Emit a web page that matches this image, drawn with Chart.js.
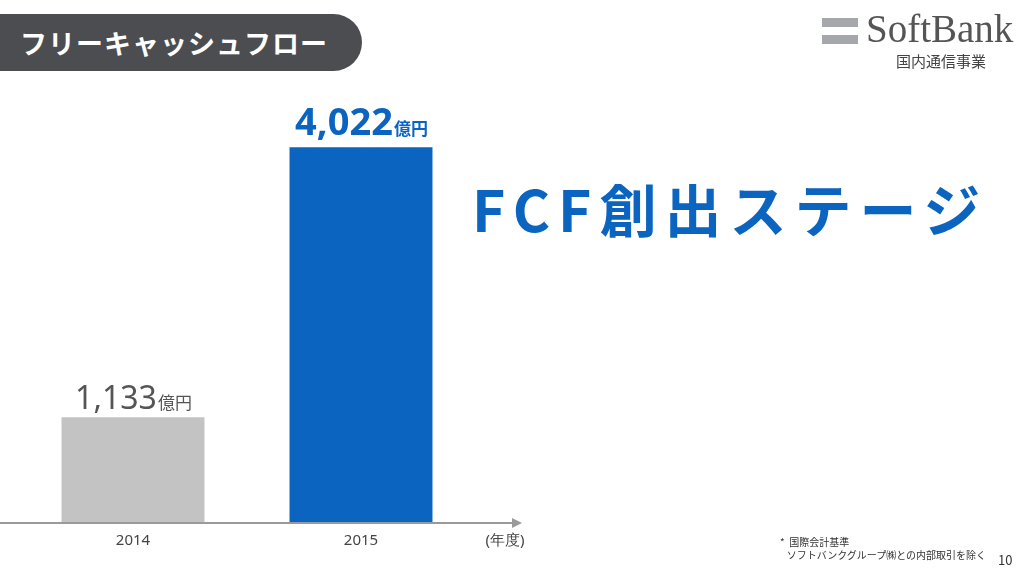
<!DOCTYPE html>
<html><head><meta charset="utf-8">
<script src="https://cdn.jsdelivr.net/npm/chart.js@4"></script>
<style>
body{margin:0;width:1024px;height:576px;overflow:hidden;background:#fff;font-family:"Noto Sans CJK JP","Noto Sans",sans-serif;position:relative}
#c{position:absolute;left:0;top:0}
.banner{position:absolute;left:0;top:14px;width:362px;height:57px;background:#4b4d50;border-radius:0 29px 29px 0;color:#fff;font-size:27px;font-weight:bold;line-height:57px;padding-left:20px;box-sizing:border-box;letter-spacing:1px}
.logo{position:absolute;left:822px;top:14px}
.bar1{position:absolute;left:0;top:4px;width:36px;height:9px;background:#a5a7aa}
.bar2{position:absolute;left:0;top:21px;width:36px;height:9px;background:#a5a7aa}
.sb{position:absolute;left:44px;top:-8px;font-family:"Liberation Serif",serif;font-size:39px;color:#555;white-space:nowrap}
.sub{position:absolute;left:74px;top:36px;font-size:15px;color:#444;white-space:nowrap}
.fcf{position:absolute;left:472px;top:166px;font-size:57px;font-weight:bold;color:#0a64c0;white-space:nowrap;letter-spacing:8px;font-family:"Noto Sans CJK JP",sans-serif}
.note{position:absolute;left:780px;top:535px;font-size:10px;color:#333;line-height:13px;white-space:nowrap}
.pg{position:absolute;left:998px;top:550px;font-size:13px;color:#333}
</style></head><body>
<canvas id="c" width="1024" height="576"></canvas>
<div class="banner">フリーキャッシュフロー</div>
<div class="logo"><div class="bar1"></div><div class="bar2"></div><div class="sb">SoftBank</div><div class="sub">国内通信事業</div></div>
<div class="fcf">FCF創出ステージ</div>
<div class="note">*&nbsp; 国際会計基準<br>&nbsp;&nbsp;&nbsp;ソフトバンクグループ㈱との内部取引を除く</div>
<div class="pg">10</div>
<script>
const categories=["2014","2015"];
const values=[1133,4022];
const valueLabels=["1,133","4,022"];
const unit="億円";
const axisUnit="(年度)";
const colors=["#c3c3c3","#0a64c0"];
const deco={id:'deco',afterDatasetsDraw(ch){
 const c=ch.ctx,x=ch.scales.x,y=ch.scales.y,y0=y.getPixelForValue(0);
 c.save();
 c.strokeStyle='#9a9a9a';c.lineWidth=2;c.beginPath();c.moveTo(0,y0);c.lineTo(512,y0);c.stroke();
 c.fillStyle='#9a9a9a';c.beginPath();c.moveTo(522,y0);c.lineTo(512,y0-5);c.lineTo(512,y0+5);c.fill();
 c.fillStyle='#444';c.font='15px "Noto Sans", sans-serif';c.textAlign='center';c.textBaseline='top';
 categories.forEach((t,i)=>c.fillText(t,x.getPixelForValue(i),y0+10));
 c.fillText(axisUnit,505,y0+10);
 const m=ch.getDatasetMeta(0);
 values.forEach((v,i)=>{
  const b=m.data[i];const big=i===1;
  c.textBaseline='alphabetic';c.textAlign='left';
  const f1=(big?'bold 38px':'32px')+' "Noto Sans", sans-serif';
  const f2=(big?'bold ':'')+'17px "Noto Sans CJK JP", sans-serif';
  c.font=f1;const w1=c.measureText(valueLabels[i]).width;
  c.font=f2;const w2=c.measureText(unit).width;
  const sx=b.x-(w1+w2)/2, by=b.y-(big?12:8);
  c.fillStyle=big?'#0a64c0':'#555';
  c.font=f1;c.fillText(valueLabels[i],sx,by);
  c.font=f2;c.fillText(unit,sx+w1+1,by);
 });
 c.restore();}};
new Chart(document.getElementById('c'),{type:'bar',
 data:{labels:categories,datasets:[{data:values,backgroundColor:colors,barPercentage:0.627,categoryPercentage:1}]},
 options:{responsive:false,animation:false,events:[],
  layout:{padding:{left:19,right:549,top:56,bottom:53}},
  plugins:{legend:{display:false},tooltip:{enabled:false}},
  scales:{x:{display:false},y:{display:false,min:0,max:5000}}},
 plugins:[deco]});
</script></body></html>
